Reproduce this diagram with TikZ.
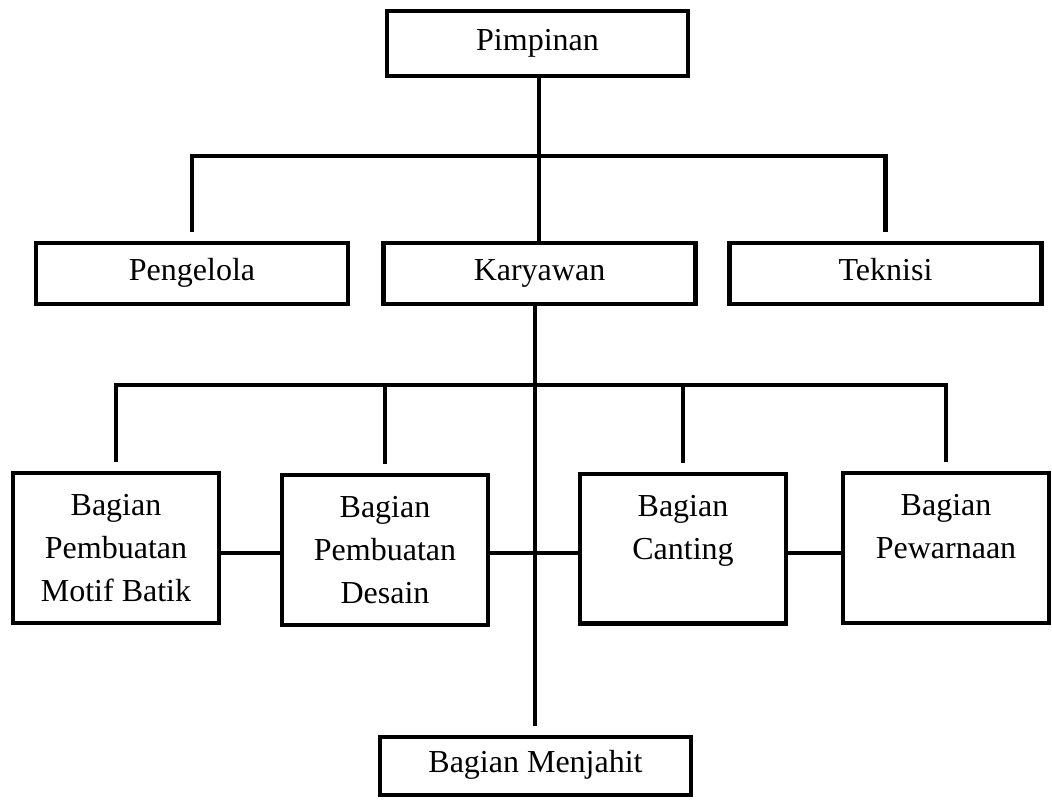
\documentclass[tikz,border=0pt]{standalone}
\usepackage{fontspec}
\setmainfont{Liberation Serif}
\begin{document}
\begin{tikzpicture}[x=0.5pt, y=-0.5pt,
    box/.style={draw, line width=2.2pt, align=center, inner sep=0pt, font=\fontsize{16}{21.5}\selectfont},
    single/.style={box, text height=0.66em, text depth=0pt},
    toprow/.style={single, minimum width=156pt, minimum height=30.3pt},
    unit/.style={box, minimum width=102.8pt, minimum height=74.8pt},
    link/.style={line width=2.4pt},
    gap/.style={shorten >=4.5pt}]
    \useasboundingbox (0,0) rectangle (1052,799);
    \node[single, minimum width=150.3pt, minimum height=32.3pt] (pimpinan) at (537.5,43.5) {Pimpinan};
    \node[toprow] (pengelola) at (192,273.5) {Pengelola};
    \node[toprow] (karyawan) at (539.5,273.5) {Karyawan};
    \node[toprow] (teknisi) at (885.5,273.5) {Teknisi};
    \node[unit] (motif) at (116,548) {Bagian\\Pembuatan\\Motif Batik};
    \node[unit] (desain) at (385,550) {Bagian\\Pembuatan\\Desain};
    \node[unit] (canting) at (683,548.5) {Bagian\\Canting\\~};
    \node[unit] (warna) at (946,548) {Bagian\\Pewarnaan\\~};
    \node[single, minimum width=155.3pt, minimum height=28.8pt] (menjahit) at (535.5,766) {Bagian Menjahit};
    \coordinate (topbar) at (539,156);
    \coordinate (lowbar) at (535,385);
    \coordinate (midrow) at (0,553);
    % garis atas
    \draw[link] (pimpinan.south -| topbar) -- (karyawan.north -| topbar);
    \draw[link, shorten <=4.5pt, shorten >=4.5pt] (pengelola.north) |- (teknisi.north |- topbar) -- (teknisi.north);
    % garis bawah
    \draw[link, gap] (karyawan.south -| lowbar) -- (menjahit.north -| lowbar);
    \draw[link, shorten <=4.5pt, shorten >=4.5pt] (motif.north) |- (warna.north |- lowbar) -- (warna.north);
    \foreach \n in {desain, canting} {
        \draw[link, gap] (\n.north |- lowbar) -- (\n.north);
    }
    \draw[link] (motif.east |- midrow) -- (desain.west |- midrow);
    \draw[link] (desain.east |- midrow) -- (canting.west |- midrow);
    \draw[link] (canting.east |- midrow) -- (warna.west |- midrow);
\end{tikzpicture}
\end{document}
